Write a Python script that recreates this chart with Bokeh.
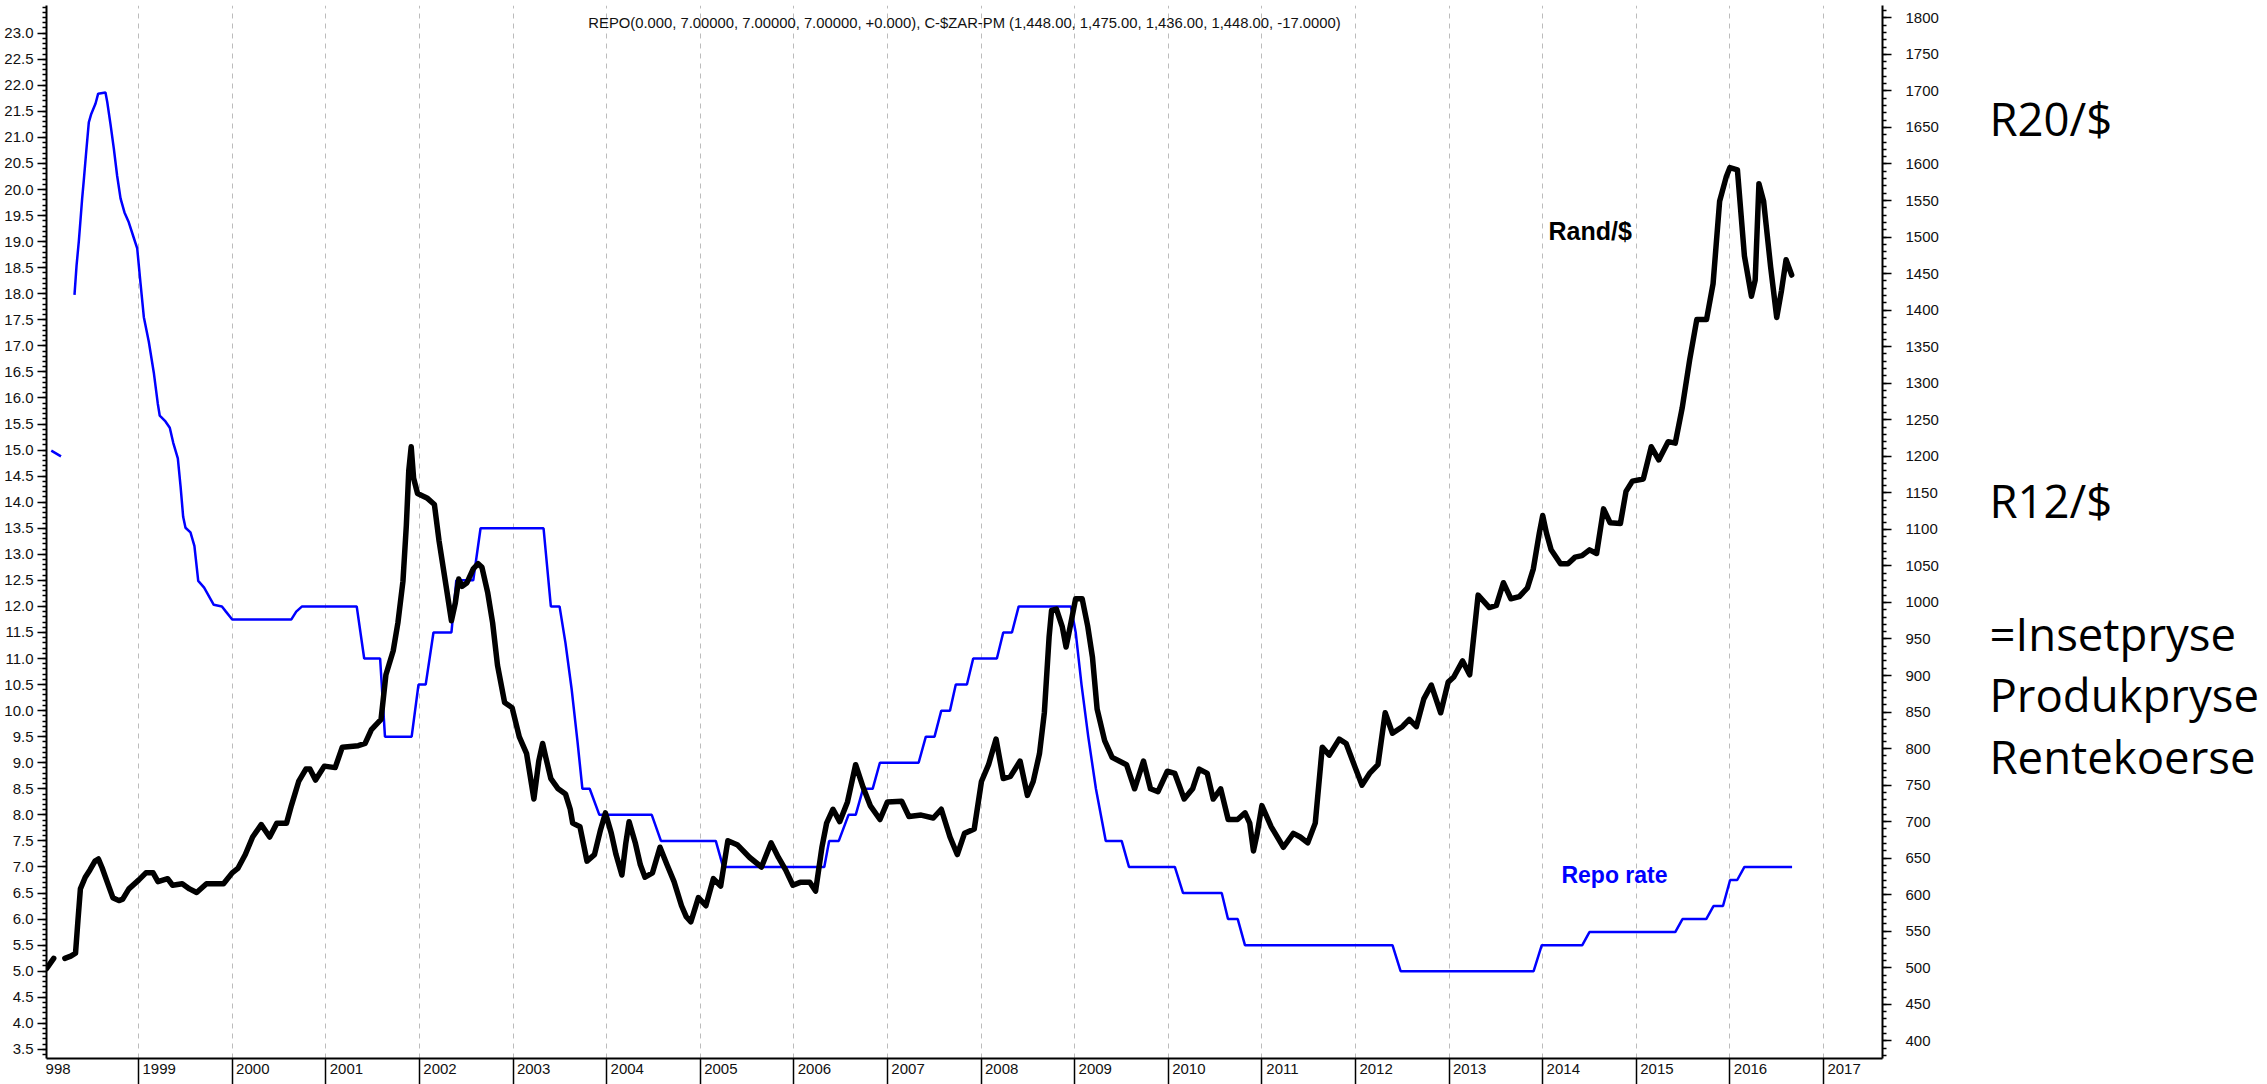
from bokeh.plotting import figure
from bokeh.layouts import row
from bokeh.models import (Range1d, LinearAxis, FixedTicker, SingleIntervalTicker,
                          PrintfTickFormatter, Label)
from bokeh.core.properties import value
from bokeh.embed import file_html
from bokeh.resources import INLINE

NaN = float("nan")

# ---------------- data ----------------
# Rand / US$ in SA cents (black line, right axis)
rand_year = [1998.016, 1998.093, 1998.15, 1998.212, 1998.275, 1998.326, 1998.352, 1998.378, 1998.43, 1998.48,
             1998.534, 1998.57, 1998.61, 1998.663, 1998.725, 1998.79, 1998.83, 1998.896, 1999.0, 1999.078,
             1999.155, 1999.207, 1999.31, 1999.363, 1999.466, 1999.544, 1999.62, 1999.725, 1999.907, 2000.0,
             2000.06, 2000.14, 2000.218, 2000.31, 2000.40, 2000.477, 2000.58, 2000.632, 2000.71, 2000.787,
             2000.83, 2000.89, 2000.984, 2001.1, 2001.176, 2001.347, 2001.42, 2001.487, 2001.59, 2001.642,
             2001.72, 2001.77, 2001.824, 2001.86, 2001.886, 2001.912, 2001.938, 2001.98, 2002.08, 2002.16,
             2002.21, 2002.29, 2002.342, 2002.383, 2002.42, 2002.456, 2002.508, 2002.575, 2002.627, 2002.668,
             2002.73, 2002.782, 2002.834, 2002.91, 2002.99, 2003.067, 2003.145, 2003.223, 2003.275, 2003.316,
             2003.35, 2003.404, 2003.482, 2003.56, 2003.611, 2003.637, 2003.715, 2003.79, 2003.87, 2003.935,
             2003.987, 2004.05, 2004.10, 2004.163, 2004.204, 2004.24, 2004.308, 2004.36, 2004.41, 2004.49,
             2004.57, 2004.645, 2004.72, 2004.80, 2004.85, 2004.90, 2004.98, 2005.06, 2005.14, 2005.218,
             2005.295, 2005.40, 2005.528, 2005.654, 2005.757, 2005.835, 2005.912, 2005.99, 2006.067, 2006.17,
             2006.232, 2006.30, 2006.35, 2006.418, 2006.49, 2006.573, 2006.66, 2006.74, 2006.816, 2006.92,
             2007.0, 2007.152, 2007.23, 2007.36, 2007.49, 2007.575, 2007.668, 2007.746, 2007.823, 2007.927,
             2008.004, 2008.08, 2008.16, 2008.237, 2008.314, 2008.417, 2008.495, 2008.557, 2008.624, 2008.676,
             2008.727, 2008.753, 2008.805, 2008.867, 2008.908, 2008.96, 2009.01, 2009.08, 2009.14, 2009.19,
             2009.24, 2009.32, 2009.40, 2009.476, 2009.554, 2009.64, 2009.735, 2009.81, 2009.89, 2009.99,
             2010.07, 2010.17, 2010.26, 2010.33, 2010.416, 2010.48, 2010.56, 2010.64, 2010.74, 2010.82,
             2010.87, 2010.91, 2010.95, 2011.0, 2011.10, 2011.23, 2011.336, 2011.41, 2011.49, 2011.57,
             2011.645, 2011.72, 2011.826, 2011.90, 2011.997, 2012.07, 2012.15, 2012.24, 2012.317, 2012.395,
             2012.50, 2012.575, 2012.65, 2012.73, 2012.81, 2012.91, 2012.99, 2013.05, 2013.144, 2013.22,
             2013.31, 2013.43, 2013.505, 2013.58, 2013.66, 2013.75, 2013.837, 2013.90, 2013.964, 2014.0,
             2014.04, 2014.09, 2014.19, 2014.27, 2014.346, 2014.42, 2014.50, 2014.576, 2014.65, 2014.72,
             2014.83, 2014.89, 2014.958, 2015.075, 2015.16, 2015.24, 2015.34, 2015.416, 2015.49, 2015.57,
             2015.646, 2015.75, 2015.82, 2015.89, 2015.96, 2016.0, 2016.08, 2016.155, 2016.23, 2016.27,
             2016.31, 2016.36, 2016.435, 2016.50, 2016.55, 2016.60, 2016.66]
rand_cents = [499, 513, NaN, 513, 516, 520, 565, 608, 624, 634,
              646, 649, 637, 618, 596, 592, 594, 608, 620, 630,
              630, 618, 622, 613, 615, 608, 603, 615, 615, 630,
              636, 655, 679, 696, 679, 698, 698, 722, 755, 772,
              772, 757, 776, 774, 802, 804, 807, 826, 840, 901,
              934, 972, 1029, 1105, 1180, 1213, 1170, 1149, 1143, 1134,
              1084, 1018, 975, 999, 1032, 1022, 1027, 1046, 1053, 1048,
              1013, 972, 914, 863, 856, 816, 793, 731, 783, 807,
              788, 759, 745, 738, 717, 698, 693, 646, 655, 689,
              712, 684, 655, 627, 670, 700, 670, 641, 624, 630,
              665, 641, 618, 585, 570, 563, 596, 585, 622, 612,
              674, 668, 651, 638, 671, 651, 634, 613, 617, 617,
              605, 665, 698, 717, 700, 727, 778, 747, 722, 703,
              727, 728, 707, 709, 705, 717, 679, 655, 684, 690,
              755, 778, 813, 759, 762, 783, 736, 755, 793, 849,
              953, 989, 991, 967, 939, 972, 1005, 1005, 967, 925,
              854, 811, 788, 783, 778, 745, 783, 745, 741, 769,
              766, 731, 745, 772, 766, 731, 745, 703, 703, 712,
              698, 660, 684, 722, 693, 665, 684, 679, 671, 698,
              802, 791, 813, 807, 774, 750, 766, 778, 849, 821,
              830, 840, 830, 868, 887, 849, 891, 898, 920, 901,
              1010, 993, 996, 1027, 1005, 1008, 1020, 1046, 1095, 1119,
              1095, 1072, 1053, 1053, 1062, 1064, 1072, 1067, 1128, 1109,
              1108, 1152, 1166, 1169, 1213, 1195, 1220, 1218, 1266, 1332,
              1387, 1387, 1436, 1549, 1582, 1595, 1592, 1474, 1419, 1441,
              1573, 1549, 1459, 1390, 1426, 1469, 1448]

# SA repo rate in % (blue line, left axis)
repo_year = [1998.067, 1998.171, 1998.24, 1998.315, 1998.337, 1998.361, 1998.379, 1998.397, 1998.415, 1998.440,
             1998.468, 1998.494, 1998.540, 1998.568, 1998.646, 1998.665, 1998.700, 1998.735, 1998.771, 1998.807,
             1998.849, 1998.895, 1998.949, 1998.985, 1999.020, 1999.056, 1999.109, 1999.162, 1999.205, 1999.226,
             1999.287, 1999.333, 1999.370, 1999.419, 1999.448, 1999.476, 1999.501, 1999.554, 1999.596, 1999.637,
             1999.70, 1999.803, 1999.89, 1999.933, 2000.0, 2000.632, 2000.684, 2000.746, 2001.33, 2001.41,
             2001.58, 2001.632, 2001.917, 2001.99, 2002.067, 2002.15, 2002.342, 2002.394, 2002.575, 2002.653,
             2003.326, 2003.404, 2003.497, 2003.560, 2003.627, 2003.689, 2003.741, 2003.819, 2003.922, 2004.482,
             2004.580, 2005.166, 2005.244, 2006.325, 2006.377, 2006.48, 2006.584, 2006.661, 2006.739, 2006.842,
             2006.919, 2007.333, 2007.41, 2007.503, 2007.575, 2007.668, 2007.73, 2007.849, 2007.916, 2008.169,
             2008.237, 2008.33, 2008.402, 2008.96, 2009.011, 2009.073, 2009.145, 2009.227, 2009.332, 2009.502,
             2009.58, 2010.07, 2010.158, 2010.571, 2010.638, 2010.742, 2010.819, 2012.395, 2012.482, 2013.903,
             2013.99, 2014.423, 2014.499, 2015.416, 2015.493, 2015.747, 2015.824, 2015.926, 2016.002, 2016.078,
             2016.155, 2016.664]
repo_rate = [14.99, 14.88, NaN, 17.98, 18.54, 19.0, 19.41, 19.83, 20.19, 20.72,
             21.29, 21.45, 21.65, 21.84, 21.86, 21.68, 21.25, 20.79, 20.26, 19.83,
             19.56, 19.37, 19.07, 18.87, 18.21, 17.55, 17.08, 16.49, 15.89, 15.66,
             15.55, 15.43, 15.14, 14.84, 14.31, 13.72, 13.51, 13.42, 13.16, 12.49,
             12.36, 12.03, 12.0, 11.9, 11.75, 11.75, 11.9, 12.0, 12.0, 11.0,
             11.0, 9.5, 9.5, 10.5, 10.5, 11.5, 11.5, 12.5, 12.5, 13.5,
             13.5, 12.0, 12.0, 11.3, 10.4, 9.4, 8.5, 8.5, 8.0, 8.0,
             7.5, 7.5, 7.0, 7.0, 7.5, 7.5, 8.0, 8.0, 8.5, 8.5,
             9.0, 9.0, 9.5, 9.5, 10.0, 10.0, 10.5, 10.5, 11.0, 11.0,
             11.5, 11.5, 12.0, 12.0, 11.5, 10.5, 9.5, 8.5, 7.5, 7.5,
             7.0, 7.0, 6.5, 6.5, 6.0, 6.0, 5.5, 5.5, 5.0, 5.0,
             5.5, 5.5, 5.75, 5.75, 6.0, 6.0, 6.25, 6.25, 6.75, 6.75,
             7.0, 7.0]

year_ticks = list(range(1999, 2018))
year_labels = ["998"] + [str(y) for y in year_ticks]
repo_ticks = [round(3.5 + 0.5 * i, 1) for i in range(40)]          # 3.5 ... 23.0
repo_minor = [round(3.4 + 0.1 * i, 1) for i in range(202)]         # 3.4 ... 23.5

title_text = ("REPO(0.000, 7.00000, 7.00000, 7.00000, +0.000), "
              "C-$ZAR-PM (1,448.00, 1,475.00, 1,436.00, 1,448.00, -17.0000)")
side_notes = ["R20/$", "R12/$", "=Insetpryse", "Produkpryse", "Rentekoerse"]
side_levels = [21.413, 13.86, 11.234, 10.022, 8.794]   # baselines, in repo-axis units

# ---------------- layout (page starts at 0,0) ----------------
H = 1084
W_MAIN = 1944
W_SIDE = 320
X0, X1 = 1998.016, 2017.63
FT, FB = 5.0, 1058.0              # frame top / bottom (page px)
L1 = 23.0 + (32.7 - FT) / 52.11
L0 = 23.0 - (FB - 32.7) / 52.11
R1 = 1800.0 + (17.3 - FT) / 0.7308
R0 = 1800.0 - (FB - 17.3) / 0.7308

FONT = "Liberation Sans"
INK = "#111111"

p = figure(width=W_MAIN, height=H, output_backend="svg", toolbar_location=None,
           x_range=Range1d(X0, X1), y_range=Range1d(L0, L1),
           min_border_left=46, min_border_right=W_MAIN - 1882,
           min_border_top=int(FT), min_border_bottom=H - int(FB))
p.extra_y_ranges = {"rand": Range1d(R0, R1)}
p.outline_line_color = None
p.background_fill_color = "white"
p.border_fill_color = "white"

# grid: dashed vertical lines at year boundaries only
p.ygrid.visible = False
p.xgrid.ticker = FixedTicker(ticks=year_ticks)
p.xgrid.grid_line_color = "#bcbcbc"
p.xgrid.grid_line_dash = "5 5"
p.xgrid.grid_line_width = 1

# left axis (repo rate)
ly = p.yaxis[0]
ly.ticker = FixedTicker(ticks=repo_ticks, minor_ticks=repo_minor)
ly.formatter = PrintfTickFormatter(format="%.1f")

# right axis (rand cents)
ry = LinearAxis(y_range_name="rand",
                ticker=SingleIntervalTicker(interval=50, num_minor_ticks=5))
p.add_layout(ry, "right")

for ax, std in [(ly, 4), (ry, 14)]:
    ax.axis_line_width = 2
    ax.axis_line_color = "black"
    ax.major_tick_out = 9
    ax.major_tick_in = 0
    ax.minor_tick_out = 4
    ax.minor_tick_in = 0
    ax.major_tick_line_width = 1.5
    ax.minor_tick_line_width = 1.5
    ax.major_tick_line_color = "black"
    ax.minor_tick_line_color = "black"
    ax.major_label_text_font = FONT
    ax.major_label_text_font_size = "15px"
    ax.major_label_text_color = INK
    ax.major_label_standoff = std

# bottom axis: boundaries as long minor ticks, labels just right of them
label_pos = [1998.14] + [y + 0.22 for y in year_ticks]
bx = p.xaxis[0]
bx.ticker = FixedTicker(ticks=label_pos, minor_ticks=year_ticks)
bx.major_label_overrides = {pos: lab for pos, lab in zip(label_pos, year_labels)}
bx.axis_line_width = 2
bx.axis_line_color = "black"
bx.major_tick_out = 0
bx.major_tick_in = 0
bx.major_tick_line_color = None
bx.minor_tick_out = 28
bx.minor_tick_in = 0
bx.minor_tick_line_width = 1.5
bx.minor_tick_line_color = "black"
bx.major_label_text_font = FONT
bx.major_label_text_font_size = "15px"
bx.major_label_text_color = INK
bx.major_label_standoff = -23

# series
p.line(repo_year, repo_rate, line_color="#0000ff", line_width=2.5)
p.line(rand_year, rand_cents, y_range_name="rand", line_color="black",
       line_width=5.5, line_join="round", line_cap="round")

# texts inside the chart
p.add_layout(Label(x=(X0 + X1) / 2, y=23.205, text=title_text, text_align="center",
                   text_baseline="alphabetic", text_font=FONT, text_font_size="14.8px",
                   text_color=INK))
p.add_layout(Label(x=2014.062, y=19.195, text="Rand/$", text_baseline="alphabetic",
                   text_font=FONT, text_font_size="25px", text_font_style="bold",
                   text_color="black"))
p.add_layout(Label(x=2014.20, y=6.855, text="Repo rate", text_baseline="alphabetic",
                   text_font=FONT, text_font_size="23px", text_font_style="bold",
                   text_color="#0000ff"))

# side panel with the notes (same vertical scale as the repo axis)
S1 = 23.0 + 32.7 / 52.11
S0 = 23.0 - (H - 32.7) / 52.11
side = figure(width=W_SIDE, height=H, output_backend="svg", toolbar_location=None,
              x_range=Range1d(0, W_SIDE), y_range=Range1d(S0, S1),
              x_axis_type=None, y_axis_type=None,
              min_border_left=0, min_border_right=0, min_border_top=0, min_border_bottom=0)
side.outline_line_color = None
side.background_fill_color = "white"
side.border_fill_color = "white"
side.grid.visible = False
side.text(x=[1989 - W_MAIN] * len(side_notes), y=side_levels, text=side_notes,
          text_font=value("Open Sans"), text_font_size="45.5px",
          text_baseline="alphabetic", text_color="black")

open("out.html", "w").write(file_html(row(p, side), INLINE))
